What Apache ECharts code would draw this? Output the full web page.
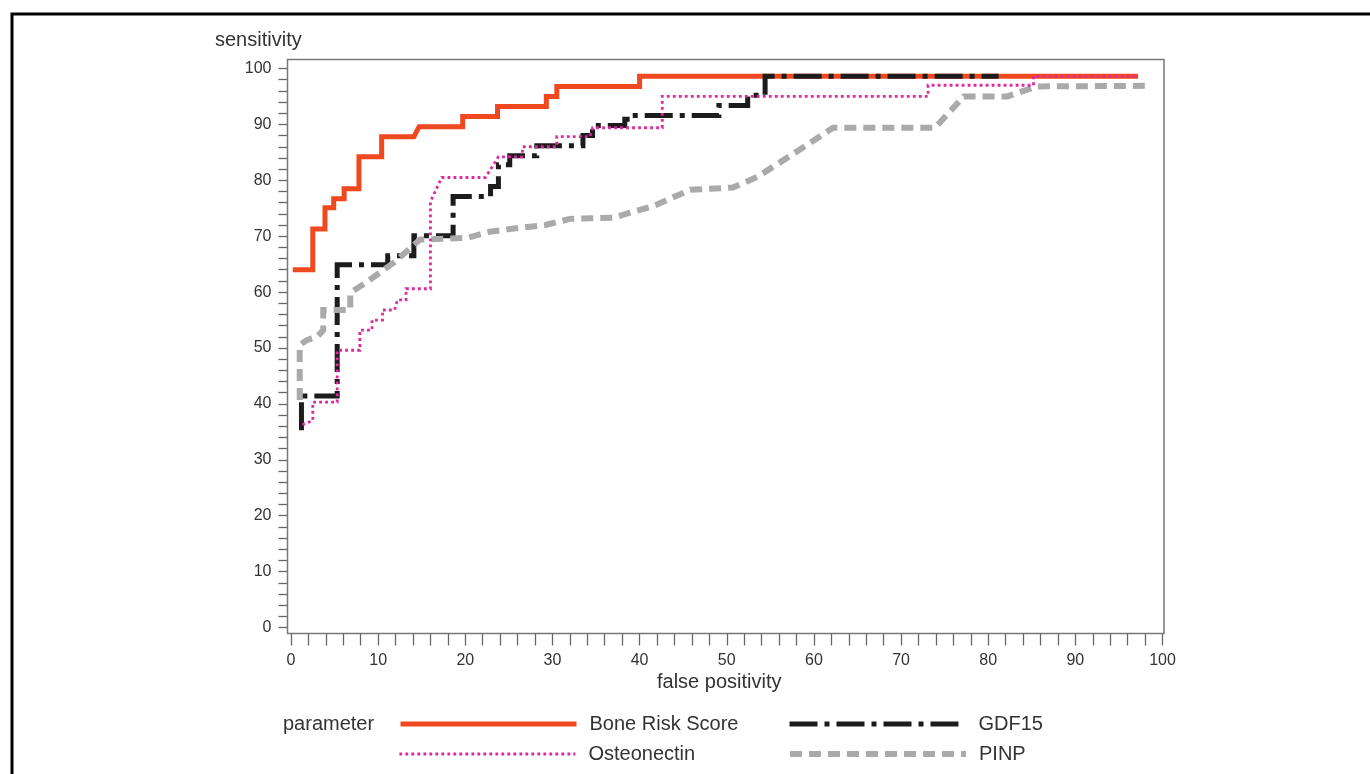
<!DOCTYPE html>
<html>
<head>
<meta charset="utf-8">
<script src="https://cdn.jsdelivr.net/npm/echarts@6/dist/echarts.min.js"></script>
<style>
  html, body { margin: 0; padding: 0; background: #fff; }
  #chart { width: 1370px; height: 774px; }
</style>
</head>
<body>
<div id="chart"></div>
<script>
// ROC curves, [false positivity, sensitivity] vertices
const boneRiskScore = [
  [0.2, 64.0], [2.5, 64.0], [2.5, 71.3], [3.9, 71.3], [3.9, 75.1], [4.9, 75.1],
  [4.9, 76.7], [6.1, 76.7], [6.1, 78.5], [7.8, 78.5], [7.8, 84.2], [10.4, 84.2],
  [10.4, 87.8], [14.1, 87.8], [14.7, 89.6], [19.7, 89.6], [19.7, 91.4], [23.7, 91.4],
  [23.7, 93.2], [29.3, 93.2], [29.3, 95.0], [30.5, 95.0], [30.5, 96.8], [40.0, 96.8],
  [40.0, 98.6], [97.2, 98.6]
];
const gdf15 = [
  [1.2, 35.3], [1.2, 41.4], [5.3, 41.4], [5.3, 64.9], [11.1, 64.9], [11.1, 66.5],
  [14.1, 66.5], [14.1, 70.1], [18.6, 70.1], [18.6, 77.1], [22.9, 77.1], [22.9, 78.9],
  [23.8, 78.9], [23.8, 82.8], [25.1, 82.8], [25.1, 84.4], [28.2, 84.4], [28.2, 86.2],
  [33.5, 86.2], [33.5, 88.0], [34.6, 88.0], [34.6, 89.8], [38.3, 89.8], [38.3, 90.9],
  [38.9, 90.9], [38.9, 91.6], [49.1, 91.6], [49.1, 93.4], [52.4, 93.4], [52.4, 95.2],
  [54.4, 95.2], [54.4, 98.6], [81.2, 98.6]
];
const osteonectin = [
  [1.3, 36.3], [2.5, 37.0], [2.5, 40.3], [5.3, 40.3], [5.3, 49.6], [7.9, 49.6],
  [7.9, 53.2], [9.3, 53.2], [9.3, 55.0], [10.5, 55.0], [10.5, 56.8], [11.9, 56.8],
  [12.2, 58.6], [13.2, 58.6], [13.2, 60.6], [16.0, 60.6], [16.0, 76.2], [17.3, 80.5],
  [22.3, 80.5], [23.8, 84.2], [26.5, 84.2], [26.6, 86.0], [30.5, 86.0], [30.5, 87.8],
  [34.3, 87.8], [34.6, 89.4], [42.6, 89.4], [42.6, 95.0], [73.1, 95.0], [73.1, 97.0],
  [85.2, 97.0], [85.2, 98.6], [97.2, 98.6]
];
const pinp = [
  [1.0, 40.7], [1.0, 50.5], [1.8, 51.4], [3.0, 52.0], [3.7, 53.2], [3.7, 56.8],
  [6.8, 56.8], [6.8, 59.9], [8.5, 61.6], [11.9, 65.4], [14.8, 69.4], [20.2, 69.7],
  [22.8, 70.8], [26.3, 71.5], [29.2, 72.0], [32.0, 73.1], [37.0, 73.3], [38.9, 74.2],
  [41.6, 75.4], [45.8, 78.3], [50.7, 78.7], [53.5, 80.6], [58.4, 85.5], [62.2, 89.4],
  [73.9, 89.4], [77.2, 95.0], [82.2, 95.0], [85.6, 96.8], [98.6, 96.9]
];

const tickLabels = [0, 10, 20, 30, 40, 50, 60, 70, 80, 90, 100];

const FONT = 'Liberation Sans, Arial, sans-serif';
const TXT = '#333';
const AXC = '#666';

const styles = {
  'Bone Risk Score': { color: '#f0481f', width: 5, type: 'solid' },
  'GDF15': { color: '#1c1c1c', width: 5, type: [28, 7, 5, 7] },
  'Osteonectin': { color: '#e0279e', width: 2.8, type: [2.8, 3.2] },
  'PINP': { color: '#aaaaaa', width: 6, type: [12, 7] }
};

function mkSeries(name, data, z) {
  const s = styles[name];
  return {
    name: name,
    type: 'line',
    data: data,
    symbol: 'none',
    z: z,
    color: s.color,
    lineStyle: { color: s.color, width: s.width, type: s.type, cap: 'butt', join: 'miter' }
  };
}

function mkLegend(name, left, top) {
  const s = styles[name];
  return {
    data: [name],
    left: left,
    top: top,
    padding: 0,
    orient: 'horizontal',
    itemWidth: 176,
    itemHeight: 20,
    selectedMode: false,
    lineStyle: { color: s.color, width: s.width, type: s.type, cap: 'butt' },
    itemStyle: { opacity: 0 },
    textStyle: { fontFamily: FONT, fontSize: 20, color: TXT, lineHeight: 20, padding: [0, 0, 0, 8] }
  };
}

const chart = echarts.init(document.getElementById('chart'), null, { renderer: 'canvas' });

chart.setOption({
  animation: false,
  backgroundColor: '#fff',
  title: [
    { text: 'sensitivity', left: 215, top: 30, padding: 0,
      textStyle: { fontFamily: FONT, fontSize: 20, fontWeight: 'normal', color: TXT, lineHeight: 20 } },
    { text: 'false positivity', left: 657, top: 672, padding: 0,
      textStyle: { fontFamily: FONT, fontSize: 20, fontWeight: 'normal', color: TXT, lineHeight: 20 } },
    { text: 'parameter', left: 283, top: 714, padding: 0,
      textStyle: { fontFamily: FONT, fontSize: 20, fontWeight: 'normal', color: TXT, lineHeight: 20 } }
  ],
  grid: { left: 291, right: 207.5, top: 68.5, bottom: 146.5, containLabel: false },
  xAxis: {
    type: 'value',
    min: 0,
    max: 100,
    interval: 10,
    offset: 6,
    axisLine: { show: false, onZero: false },
    axisTick: { show: true, length: 12, lineStyle: { color: AXC, width: 1.3 } },
    minorTick: { show: true, splitNumber: 5, length: 12, lineStyle: { color: AXC, width: 1.3 } },
    splitLine: { show: false },
    minorSplitLine: { show: false },
    axisLabel: {
      margin: 19, fontFamily: FONT, fontSize: 16, color: TXT,
      formatter: v => (tickLabels.indexOf(v) >= 0 ? String(v) : '')
    }
  },
  yAxis: {
    type: 'value',
    min: 0,
    max: 100,
    interval: 10,
    offset: 3.5,
    axisLine: { show: false, onZero: false },
    axisTick: { show: true, length: 9, lineStyle: { color: AXC, width: 1.3 } },
    minorTick: { show: true, splitNumber: 5, length: 9, lineStyle: { color: AXC, width: 1.3 } },
    splitLine: { show: false },
    minorSplitLine: { show: false },
    axisLabel: {
      margin: 16, fontFamily: FONT, fontSize: 16, color: TXT,
      formatter: v => (tickLabels.indexOf(v) >= 0 ? String(v) : '')
    }
  },
  legend: [
    mkLegend('Bone Risk Score', 398, 714),
    mkLegend('GDF15', 787, 714),
    mkLegend('Osteonectin', 398, 744),
    mkLegend('PINP', 787, 744)
  ],
  graphic: [
    {
      type: 'rect', silent: true, z: 100,
      shape: { x: 287.5, y: 59.5, width: 876.5, height: 574 },
      style: { fill: 'none', stroke: '#777', lineWidth: 1.5 }
    },
    {
      type: 'rect', silent: true, z: 100,
      shape: { x: 12, y: 14, width: 1420, height: 820 },
      style: { fill: 'none', stroke: '#000', lineWidth: 3 }
    }
  ],
  series: [
    mkSeries('Bone Risk Score', boneRiskScore, 2),
    mkSeries('GDF15', gdf15, 3),
    mkSeries('PINP', pinp, 4),
    mkSeries('Osteonectin', osteonectin, 5)
  ]
});
</script>
</body>
</html>
